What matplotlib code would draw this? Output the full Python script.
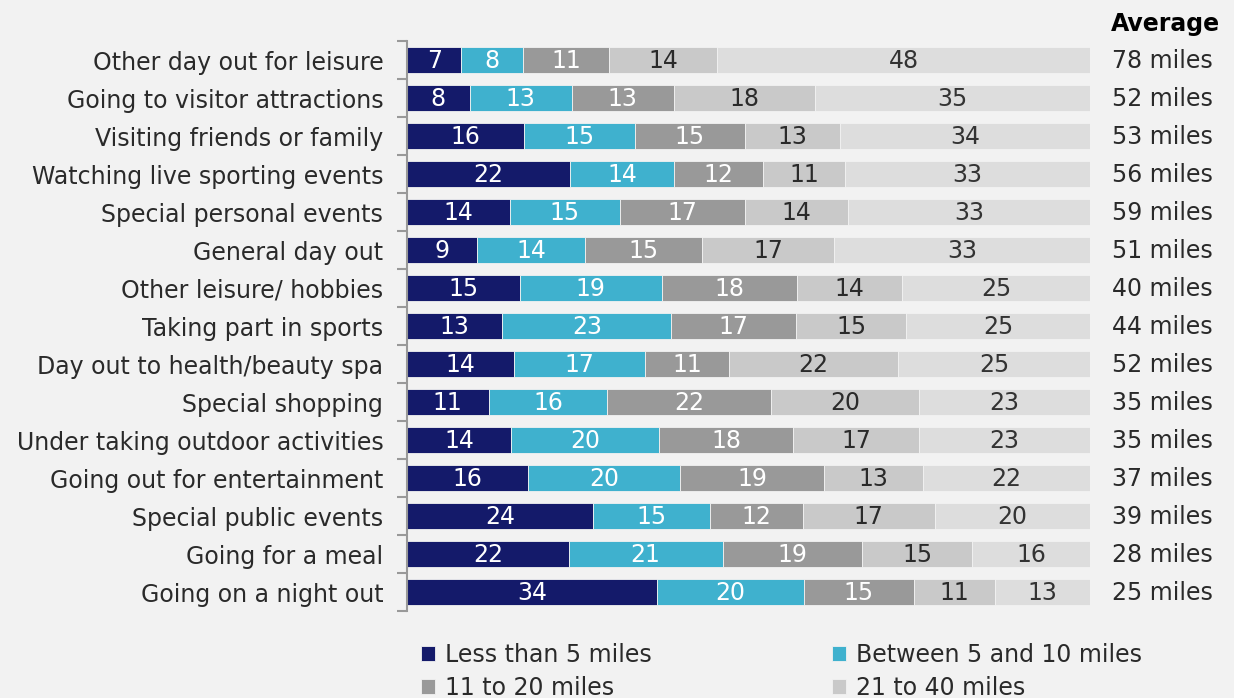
import matplotlib
matplotlib.use('Agg')
import matplotlib.pyplot as plt
import numpy as np

plt.rcParams['font.family'] = ['DejaVu Sans']

categories = ['Other day out for leisure', 'Going to visitor attractions', 'Visiting friends or family',
              'Watching live sporting events', 'Special personal events', 'General day out',
              'Other leisure/ hobbies', 'Taking part in sports', 'Day out to health/beauty spa',
              'Special shopping', 'Under taking outdoor activities', 'Going out for entertainment',
              'Special public events', 'Going for a meal', 'Going on a night out']
less5 = [7, 8, 16, 22, 14, 9, 15, 13, 14, 11, 14, 16, 24, 22, 34]
b5_10 = [8, 13, 15, 14, 15, 14, 19, 23, 17, 16, 20, 20, 15, 21, 20]
m11_20 = [11, 13, 15, 12, 17, 15, 18, 17, 11, 22, 18, 19, 12, 19, 15]
m21_40 = [14, 18, 13, 11, 14, 17, 14, 15, 22, 20, 17, 13, 17, 15, 11]
over40 = [48, 35, 34, 33, 33, 33, 25, 25, 25, 23, 23, 22, 20, 16, 13]
averages = [78, 52, 53, 56, 59, 51, 40, 44, 52, 35, 35, 37, 39, 28, 25]
series_names = ['Less than 5 miles', 'Between 5 and 10 miles', '11 to 20 miles', '21 to 40 miles', 'More than 40 miles']

colors = ['#141a6a', '#3fb1ce', '#999999', '#c9c9c9', '#dddddd']
text_colors = ['white', 'white', 'white', '#2a2a2a', '#333333']
bg = '#f2f2f2'
fs = 17

data = np.array([less5, b5_10, m11_20, m21_40, over40], dtype=float)
totals = data.sum(axis=0)
shares = data / totals

fig = plt.figure(figsize=(12.34, 6.98), dpi=100, facecolor=bg)
ax = fig.add_axes([0.3298, 0.1246, 0.5535, 0.8166], facecolor=bg)

y = np.arange(len(categories))
left = np.zeros(len(categories))
handles = []
for i in range(5):
    bars = ax.barh(y, shares[i], left=left, height=0.7, color=colors[i],
                   edgecolor=bg, linewidth=0.6, label=series_names[i])
    handles.append(bars)
    for j in range(len(categories)):
        ax.text(left[j] + shares[i][j] / 2, y[j] + 0.03, str(int(data[i][j])), ha='center', va='center',
                color=text_colors[i], fontsize=fs)
    left += shares[i]

ax.set_xlim(0, 1)
ax.set_ylim(len(categories) - 0.5, -0.5)
ax.set_yticks(y)
ax.set_yticklabels(categories, fontsize=fs, color='#2a2a2a')
ax.set_yticks(np.arange(-0.5, len(categories), 1), minor=True)
ax.tick_params(axis='y', which='major', length=0, pad=17)
ax.tick_params(axis='y', which='minor', length=7, width=1.5, color='#999999')
ax.set_xticks([])
for s in ['top', 'right', 'bottom']:
    ax.spines[s].set_visible(False)
ax.spines['left'].set_color('#999999')
ax.spines['left'].set_linewidth(1.5)

# average column
fig.text(1111 / 1234, 1 - 24 / 698, 'Average', fontsize=17, fontweight='bold', ha='left', va='center',
         color='black')
for j in range(len(categories)):
    ax.text(1.032, y[j] + 0.03, f'{averages[j]} miles', transform=ax.get_yaxis_transform(),
            ha='left', va='center', fontsize=fs, color='#2a2a2a')

order = [handles[0], handles[2], handles[1], handles[3]]
leg = fig.legend(order, [h.get_label() for h in order], ncol=2, loc='upper left',
                 bbox_to_anchor=(421 / 1234, 1 - 643 / 698), frameon=False, fontsize=fs,
                 handlelength=0.6, handleheight=0.6, handletextpad=0.4, columnspacing=7.65,
                 labelspacing=0.38, borderaxespad=0, borderpad=0)
for t in leg.get_texts():
    t.set_color('#2a2a2a')

fig.savefig('out.png', dpi=100, facecolor=bg)
